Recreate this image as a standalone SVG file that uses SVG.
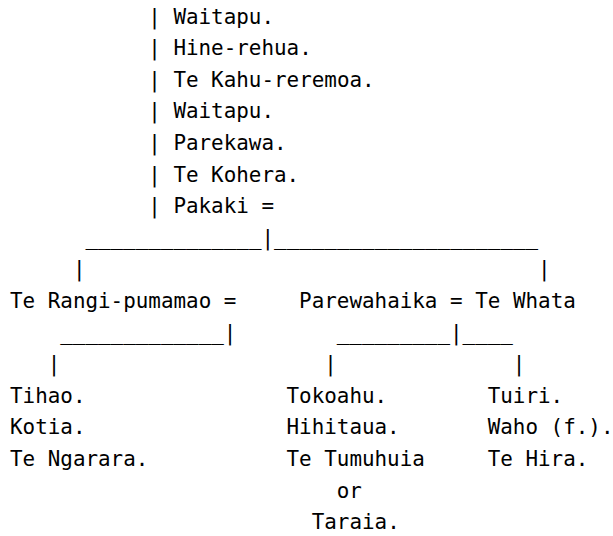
<svg xmlns="http://www.w3.org/2000/svg" width="613" height="536" viewBox="0 0 613 536">
<style>
text{font-family:"DejaVu Sans Mono","Liberation Mono",monospace;font-size:20.9px;fill:#000;white-space:pre}
</style>
<rect width="613" height="536" fill="#fff"/>
<g id="connectors">
<text x="148.3" y="23.5">|</text>
<text x="148.3" y="55.1">|</text>
<text x="148.3" y="86.7">|</text>
<text x="148.3" y="118.3">|</text>
<text x="148.3" y="149.9">|</text>
<text x="148.3" y="181.5">|</text>
<text x="148.3" y="213.1">|</text>
<text x="85.4" y="244.7" xml:space="preserve">______________|_____________________</text>
<text x="72.9" y="276.3">|</text>
<text x="537.9" y="276.3">|</text>
<text x="60.3" y="339.5" xml:space="preserve">_____________|</text>
<text x="336.8" y="339.5" xml:space="preserve">_________|____</text>
<text x="47.7" y="371.1">|</text>
<text x="324.3" y="371.1">|</text>
<text x="512.8" y="371.1">|</text>
</g>
<g id="waitapu1"><text x="173.4" y="23.5">Waitapu.</text></g>
<g id="hine-rehua"><text x="173.4" y="55.1">Hine-rehua.</text></g>
<g id="te-kahu-reremoa"><text x="173.4" y="86.7">Te Kahu-reremoa.</text></g>
<g id="waitapu2"><text x="173.4" y="118.3">Waitapu.</text></g>
<g id="parekawa"><text x="173.4" y="149.9">Parekawa.</text></g>
<g id="te-kohera"><text x="173.4" y="181.5">Te Kohera.</text></g>
<g id="pakaki"><text x="173.4" y="213.1">Pakaki =</text></g>
<g id="te-rangi-pumamao"><text x="10" y="307.9">Te Rangi-pumamao =</text></g>
<g id="parewahaika"><text x="299.1" y="307.9" xml:space="preserve">Parewahaika = Te Whata</text></g>
<g id="children-rangi">
<text x="10" y="402.7">Tihao.</text>
<text x="10" y="434.3">Kotia.</text>
<text x="10" y="465.9">Te Ngarara.</text>
</g>
<g id="children-parewahaika">
<text x="286.5" y="402.7">Tokoahu.</text>
<text x="286.5" y="434.3">Hihitaua.</text>
<text x="286.5" y="465.9">Te Tumuhuia</text>
<text x="336.8" y="497.5">or</text>
<text x="311.7" y="529.1">Taraia.</text>
</g>
<g id="children-whata">
<text x="487.7" y="402.7">Tuiri.</text>
<text x="487.7" y="434.3">Waho (f.).</text>
<text x="487.7" y="465.9">Te Hira.</text>
</g>
</svg>
